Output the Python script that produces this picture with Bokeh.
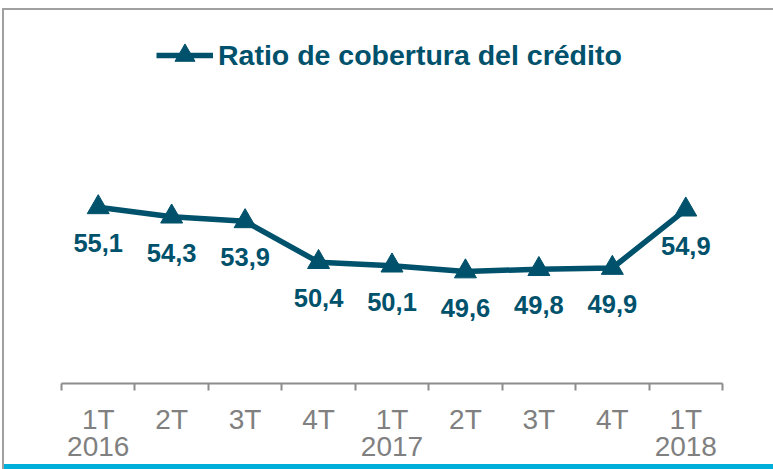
from bokeh.plotting import figure
from bokeh.models import Legend, LegendItem, FixedTicker, ColumnDataSource
from bokeh.core.properties import value
from bokeh.embed import file_html
from bokeh.resources import INLINE

quarters = ["1T", "2T", "3T", "4T", "1T", "2T", "3T", "4T", "1T"]
years = ["2016", "", "", "", "2017", "", "", "", "2018"]
ratio = [55.1, 54.3, 53.9, 50.4, 50.1, 49.6, 49.8, 49.9, 54.9]
series_name = "Ratio de cobertura del crédito"

TEAL = "#00516b"
GRAY = "#808080"
FONT = "Liberation Sans"

xs = list(range(len(ratio)))
labels = [f"{v:.1f}".replace(".", ",") for v in ratio]
src = ColumnDataSource(dict(x=xs, y=ratio, label=labels))

box_css = {
    "background-color": "white",
    "background-image": ("linear-gradient(#a0a0a0,#a0a0a0), linear-gradient(#a0a0a0,#a0a0a0), "
                         "linear-gradient(#00b0da,#00b0da)"),
    "background-size": "771px 2px, 2px 461px, 771px 5px",
    "background-position": "2px 8px, 2px 8px, 2px 464px",
    "background-repeat": "no-repeat",
}

p = figure(width=773, height=469, x_range=(-0.5, len(ratio) - 0.5), y_range=(40, 70),
           min_border_left=61, min_border_right=51, min_border_top=33, min_border_bottom=86,
           output_backend="svg", toolbar_location=None, styles=box_css)
p.outline_line_color = None
p.xgrid.visible = False
p.ygrid.visible = False
p.yaxis.visible = False
p.background_fill_color = "white"
p.border_fill_alpha = 0

line_r = p.line("x", "y", source=src, line_color=TEAL, line_width=5.5)
sc_r = p.scatter("x", "y", source=src, marker="triangle", size=22,
                 fill_color=TEAL, line_color=TEAL)
p.text("x", "y", text="label", source=src, text_align="center", text_baseline="middle",
       y_offset=36, text_font=value(FONT), text_font_size="25.5px", text_font_style="bold",
       text_color=TEAL)

ax = p.xaxis[0]
ax.ticker = FixedTicker(ticks=xs, minor_ticks=[i - 0.5 for i in range(len(ratio) + 1)])
ax.major_label_overrides = {i: (q + ("\n" + y if y else "")) for i, (q, y) in enumerate(zip(quarters, years))}
ax.major_tick_out = 0
ax.major_tick_in = 0
ax.minor_tick_out = 7
ax.minor_tick_in = 0
ax.minor_tick_line_color = "#8c8c8c"
ax.minor_tick_line_width = 2
ax.axis_line_color = "#8c8c8c"
ax.axis_line_width = 2
ax.major_label_standoff = 13
ax.major_label_text_font = FONT
ax.major_label_text_font_size = "28px"
ax.major_label_text_color = GRAY
ax.major_label_text_line_height = 0.88

legend = Legend(items=[LegendItem(label=series_name, renderers=[line_r, sc_r])],
                location=(95, 303), padding=0, margin=0, border_line_color=None,
                background_fill_alpha=0, glyph_width=57, glyph_height=50, label_standoff=5,
                label_text_font=FONT, label_text_font_size="28.5px", label_text_font_style="bold",
                label_text_color=TEAL)
p.add_layout(legend)

open("out.html", "w").write(file_html(p, INLINE))
